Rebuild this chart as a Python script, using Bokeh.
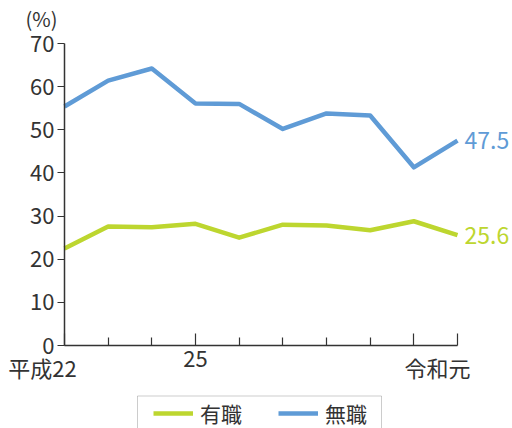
from bokeh.plotting import figure
from bokeh.models import (Range1d, FixedTicker, Label, Legend, LegendItem,
                          ColumnDataSource, BoxAnnotation)
from bokeh.embed import file_html
from bokeh.resources import INLINE

# ---- data ----
year_index = [0, 1, 2, 3, 4, 5, 6, 7, 8, 9]
tick_positions = [0, 3, 9]
tick_labels = ["平成22", "25", "令和元"]
yushoku = [22.5, 27.6, 27.4, 28.2, 25.0, 28.0, 27.8, 26.7, 28.8, 25.6]   # 有職
mushoku = [55.4, 61.4, 64.2, 56.1, 56.0, 50.2, 53.8, 53.3, 41.3, 47.5]   # 無職
series_names = ["有職", "無職"]
y_ticks = [0, 10, 20, 30, 40, 50, 60, 70]

FONT = "Noto Sans CJK JP"
GREEN = "#bdd62f"
BLUE = "#5f9bd6"
DARK = "#333333"

W, H = 512, 428
# pixel layout of the plotting area inside the canvas
X0_PX, X9_PX = 64, 457      # where year index 0 and 9 sit
Y0_PX, Y70_PX = 345, 43     # where 0 % and 70 % sit
ux = (X9_PX - X0_PX) / 9.0
uy = (Y0_PX - Y70_PX) / 70.0
x_start = -X0_PX / ux
x_end = (W - X0_PX) / ux
y_end = Y0_PX / uy
y_start = -(H - Y0_PX) / uy


def px_x(px):
    return (px - X0_PX) / ux


def px_y(py):
    return (Y0_PX - py) / uy


src = ColumnDataSource(dict(x=year_index, yu=yushoku, mu=mushoku))

p = figure(width=W, height=H, output_backend="svg", toolbar_location=None,
           x_range=Range1d(x_start, x_end), y_range=Range1d(y_start, y_end),
           min_border=0, min_border_left=0, min_border_right=0,
           min_border_top=0, min_border_bottom=0)
p.outline_line_color = None
p.grid.visible = False
p.background_fill_color = "white"

# axes (drawn at fixed data locations inside the frame)
xa = p.xaxis[0]
xa.fixed_location = 0
xa.ticker = FixedTicker(ticks=[0, 3, 8, 9], minor_ticks=[1, 2, 4, 5, 6, 7])
xa.bounds = (0, 9)
xa.major_tick_in = 12
xa.major_tick_out = 0
xa.minor_tick_in = 8
xa.minor_tick_out = 0
xa.major_label_overrides = {0: "", 3: "", 8: "", 9: ""}
xa.axis_line_color = DARK
xa.major_tick_line_color = DARK
xa.minor_tick_line_color = DARK
xa.axis_line_width = 1.5
xa.major_tick_line_width = 1.2
xa.minor_tick_line_width = 1.2

ya = p.yaxis[0]
ya.fixed_location = 0
ya.ticker = FixedTicker(ticks=y_ticks)
ya.bounds = (0, 70)
ya.major_tick_in = 0
ya.major_tick_out = 7
ya.minor_tick_line_color = None
ya.major_label_standoff = 3
ya.major_label_text_font = FONT
ya.major_label_text_font_size = "22px"
ya.major_label_text_color = DARK
ya.axis_line_color = DARK
ya.major_tick_line_color = DARK
ya.axis_line_width = 1.5
ya.major_tick_line_width = 1.2

# lines
r_yu = p.line("x", "yu", source=src, line_color=GREEN, line_width=4.5, line_join="round")
r_mu = p.line("x", "mu", source=src, line_color=BLUE, line_width=4.5, line_join="round")

# end value labels
last = year_index[-1]
for vals, col in ((yushoku, GREEN), (mushoku, BLUE)):
    p.add_layout(Label(x=last, y=vals[-1], text=f"{vals[-1]:.1f}", x_offset=7,
                       text_align="left", text_baseline="middle",
                       text_font=FONT, text_font_size="23px", text_color=col))

# x tick labels
label_offsets = [-22, 0, -20]
for pos, lab, off in zip(tick_positions, tick_labels, label_offsets):
    p.add_layout(Label(x=pos, y=0, text=lab, x_offset=off, y_offset=-5,
                       text_align="center", text_baseline="top",
                       text_font=FONT, text_font_size="22px", text_color=DARK))

# unit label
p.add_layout(Label(x=0, y=70, text="(%)", x_offset=-39, y_offset=11,
                   text_align="left", text_baseline="bottom",
                   text_font=FONT, text_font_size="20px", text_color=DARK))

# legend frame
p.add_layout(BoxAnnotation(left=px_x(137), right=px_x(381), top=px_y(395.5), bottom=px_y(445),
                           fill_color="white", fill_alpha=1.0,
                           line_color="#555555", line_width=1, level="annotation"))

legend = Legend(items=[LegendItem(label=series_names[0], renderers=[r_yu]),
                       LegendItem(label=series_names[1], renderers=[r_mu])],
                orientation="horizontal", location=(153, 0),
                label_text_font=FONT, label_text_font_size="21px", label_text_color=DARK,
                glyph_width=40, glyph_height=20, label_standoff=7, spacing=36,
                padding=0, margin=0, border_line_color=None,
                background_fill_alpha=0)
p.add_layout(legend, "center")

open("out.html", "w").write(file_html(p, INLINE))
